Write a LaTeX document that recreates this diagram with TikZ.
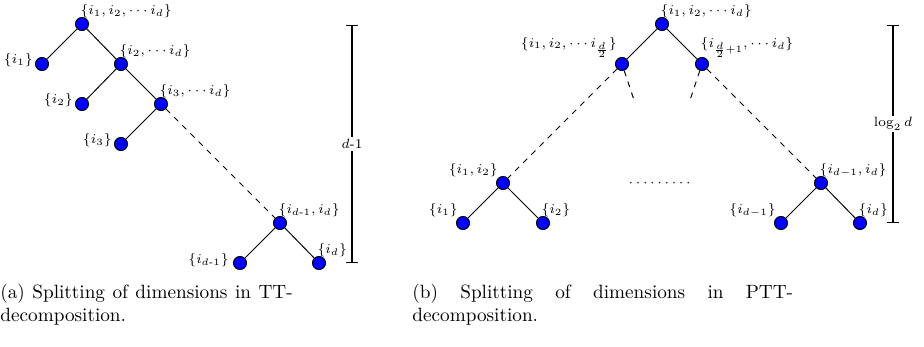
\documentclass[tikz,border=0pt]{standalone}
\usepackage{amsmath}
\usetikzlibrary{arrows.meta}
\tikzset{
  dimnode/.style={circle, draw=black, fill=blue, line width=0.5pt, minimum size=6.8pt, inner sep=0pt},
  setlabel/.style={font=\scriptsize, inner sep=0pt},
  tagne/.style={label={[setlabel, xshift=-3.5pt, yshift=0.4pt]above right:#1}},
  tagnw/.style={label={[setlabel, yshift=0.4pt]above left:#1}},
  tagw/.style={label={[setlabel, xshift=-1pt, yshift=2pt]left:#1}},
  treeedge/.style={draw=black, line width=0.5pt},
  cutedge/.style={draw=black, line width=0.5pt, dashed},
  depthbar/.style={{Bar[width=6pt]}-{Bar[width=6pt]}, draw=black, line width=0.6pt},
  barlabel/.style={font=\scriptsize, fill=white, inner sep=1pt},
  subcaption/.style={anchor=north west, inner sep=0pt, align=justify, font=\normalsize},
}
\begin{document}
\begin{tikzpicture}[x=0.52pt, y=-0.52pt]
  \useasboundingbox (0,0) rectangle (924,346);
  % (a) TT: one dimension split off at every level
  \node[dimnode, tagne={$\{i_1, i_2, \cdots i_d\}$}] (ttroot) at (82,24) {};
  \node[dimnode, tagw={$\{i_1\}$}] (tt1) at (42,64) {};
  \node[dimnode, tagne={$\{i_2, \cdots i_d\}$}] (ttrest2) at (121,64) {};
  \node[dimnode, tagw={$\{i_2\}$}] (tt2) at (82,104) {};
  \node[dimnode, tagne={$\{i_3, \cdots i_d\}$}] (ttrest3) at (161,104) {};
  \node[dimnode, tagw={$\{i_3\}$}] (tt3) at (121,144) {};
  \node[dimnode, tagne={$\{i_{d\text{-}1}, i_d\}$}] (ttlast) at (280,223) {};
  \node[dimnode, label={[setlabel, xshift=-2pt, yshift=1.5pt]left:$\{i_{d\text{-}1}\}$}] (ttdm) at (240,263) {};
  \node[dimnode, tagne={$\{i_d\}$}] (ttd) at (319,263) {};
  \draw[treeedge] (ttroot) -- (tt1);
  \draw[treeedge] (ttroot) -- (ttrest2);
  \draw[treeedge] (ttrest2) -- (tt2);
  \draw[treeedge] (ttrest2) -- (ttrest3);
  \draw[treeedge] (ttrest3) -- (tt3);
  \draw[cutedge] (ttrest3) -- (ttlast);
  \draw[treeedge] (ttlast) -- (ttdm);
  \draw[treeedge] (ttlast) -- (ttd);
  % depth of the TT tree
  \coordinate (ttbartop) at (352,25);
  \coordinate (ttbarbot) at (352,263);
  \draw[depthbar] (ttbartop) -- node[barlabel] (ttdepth) {$d$-1} (ttbarbot);
  % (b) PTT: balanced halving
  \node[dimnode, tagne={$\{i_1, i_2, \cdots i_d\}$}] (pttroot) at (662,24) {};
  \node[dimnode, tagnw={$\{i_1, i_2, \cdots i_{\frac{d}{2}}\}$}] (pttleft) at (622,64) {};
  \node[dimnode, tagne={$\{i_{\frac{d}{2}+1}, \cdots i_d\}$}] (pttright) at (702,64) {};
  \node[dimnode, tagnw={$\{i_1, i_2\}$}] (ptt12) at (503,183) {};
  \node[dimnode, tagnw={$\{i_1\}$}] (ptt1) at (463,223) {};
  \node[dimnode, tagne={$\{i_2\}$}] (ptt2) at (543,223) {};
  \node[dimnode, tagne={$\{i_{d-1}, i_d\}$}] (pttlast) at (821,183) {};
  \node[dimnode, tagnw={$\{i_{d-1}\}$}] (pttdm) at (781,223) {};
  \node[dimnode, tagne={$\{i_d\}$}] (pttd) at (860,223) {};
  \coordinate (pttleftcut) at (635,103);
  \coordinate (pttrightcut) at (689,103);
  \draw[treeedge] (pttroot) -- (pttleft);
  \draw[treeedge] (pttroot) -- (pttright);
  \draw[cutedge] (pttleft) -- (ptt12);
  \draw[cutedge] (pttleft) -- (pttleftcut);
  \draw[cutedge] (pttright) -- (pttrightcut);
  \draw[cutedge] (pttright) -- (pttlast);
  \draw[treeedge] (ptt12) -- (ptt1);
  \draw[treeedge] (ptt12) -- (ptt2);
  \draw[treeedge] (pttlast) -- (pttdm);
  \draw[treeedge] (pttlast) -- (pttd);
  \node[font=\scriptsize, inner sep=0pt] (pttgap) at (661,183) {$\cdots\cdots\cdots$};
  % depth of the PTT tree
  \coordinate (pttbartop) at (893,25);
  \coordinate (pttbarbot) at (893,223);
  \draw[depthbar] (pttbartop) -- node[barlabel] (pttdepth) {$\log_2 d$} (pttbarbot);
  % captions
  \node[subcaption, text width=152pt] (capa) at (0,284)
    {(a) Splitting of dimensions in TT-decomposition.};
  \node[subcaption, text width=198pt] (capb) at (412,284)
    {(b) Splitting of dimensions in PTT-decomposition.};
\end{tikzpicture}
\end{document}
